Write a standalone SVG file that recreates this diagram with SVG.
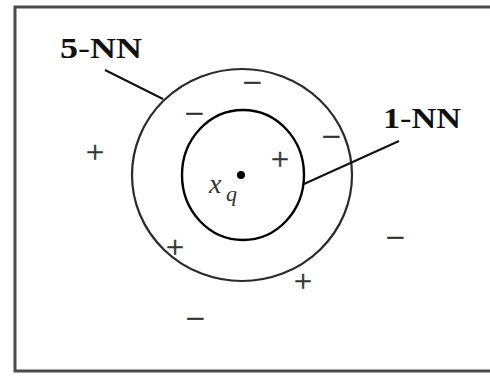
<svg xmlns="http://www.w3.org/2000/svg" width="490" height="376" viewBox="0 0 490 376">
<style>
.frame{fill:#fff;stroke:#4a4a4a;stroke-width:3}
.outer{fill:none;stroke:#2a2a2a;stroke-width:2.2}
.inner{fill:none;stroke:#000;stroke-width:2.4}
.lead{stroke:#111;stroke-width:2;fill:none}
.lbl{font-family:"Liberation Serif","Times New Roman",serif;font-size:30px;fill:#111;font-weight:bold}
.n{font-weight:normal}
.sgn{font-family:"Liberation Serif","Times New Roman",serif;fill:#333;stroke:#333;stroke-width:0.5;text-anchor:middle}
.p{font-size:32px}
.m{font-size:34px}
.var{font-family:"Liberation Serif","Times New Roman",serif;font-style:italic;fill:#333}
</style>
<rect class="frame" x="15" y="7" width="480" height="364"/>
<g id="outer-5nn"><ellipse class="outer" cx="242" cy="175" rx="110" ry="106"/></g>
<g id="inner-1nn"><ellipse class="inner" cx="243" cy="175" rx="61" ry="65"/></g>
<g id="query">
<circle cx="241" cy="175" r="4" fill="#000"/>
<text class="var" x="209" y="193" font-size="28">x</text>
<text class="var" x="226" y="201" font-size="22">q</text>
</g>
<g id="connectors">
<line class="lead" x1="105" y1="70" x2="163" y2="99"/>
<line class="lead" x1="399" y1="141" x2="304" y2="184"/>
</g>
<g id="label-5nn"><text class="lbl" x="60" y="58" textLength="82" lengthAdjust="spacingAndGlyphs">5<tspan class="n">-</tspan>NN</text></g>
<g id="label-1nn"><text class="lbl" x="383" y="128" textLength="78" lengthAdjust="spacingAndGlyphs">1<tspan class="n">-</tspan>NN</text></g>
<g id="points">
<text class="sgn p" x="95" y="163">+</text>
<text class="sgn p" x="280" y="170">+</text>
<text class="sgn p" x="175" y="258">+</text>
<text class="sgn p" x="303" y="292">+</text>
<text class="sgn m" x="194" y="125">−</text>
<text class="sgn m" x="252" y="94">−</text>
<text class="sgn m" x="331" y="148">−</text>
<text class="sgn m" x="395" y="249">−</text>
<text class="sgn m" x="195" y="330">−</text>
</g>
</svg>
